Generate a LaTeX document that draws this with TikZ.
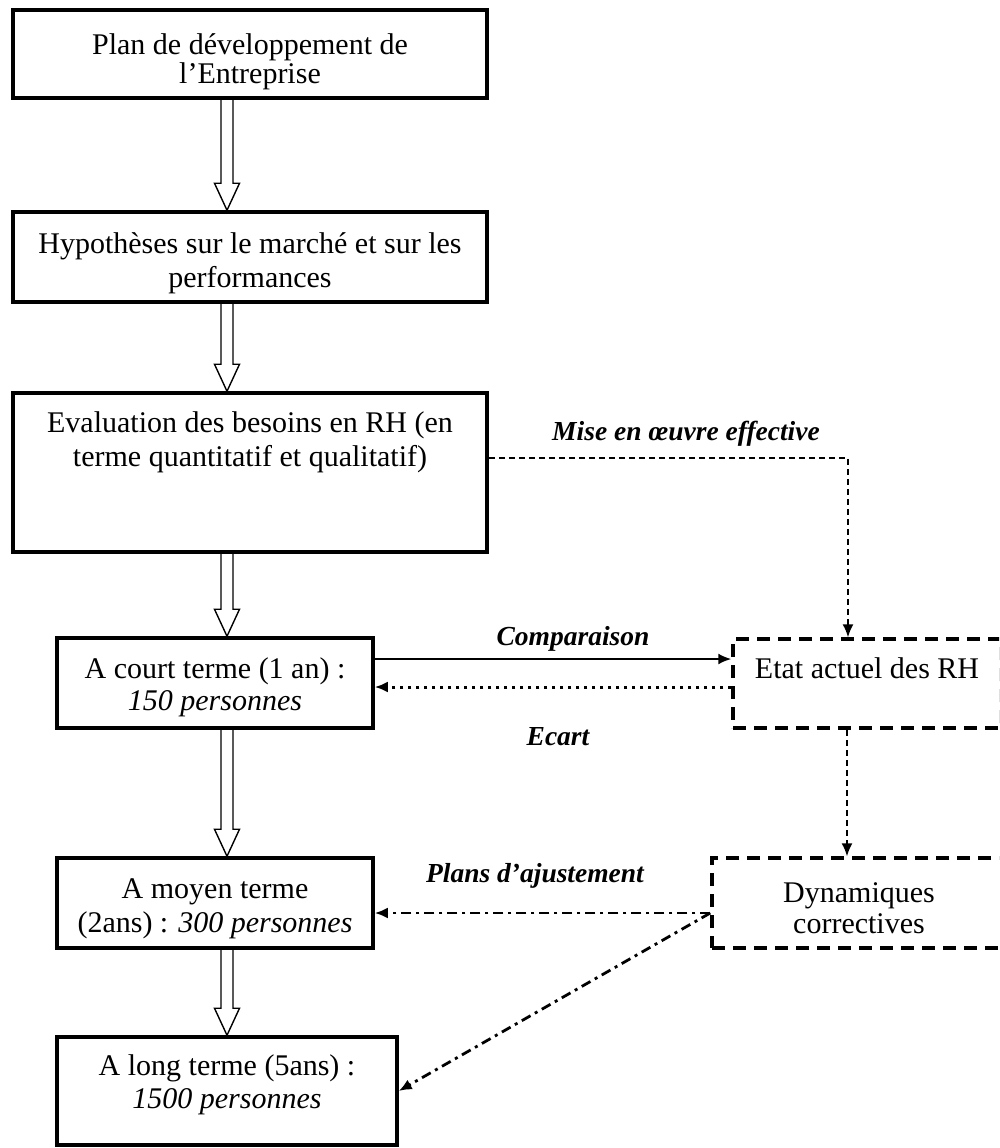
\documentclass[tikz,border=0pt]{standalone}
\usepackage{fontspec}
\setmainfont{Liberation Serif}
\usetikzlibrary{arrows.meta,calc}
\newcommand\blockarrow[2]{%
  \draw[blockarr] let \p1=(#1.south -| ax), \p2=(#2.north -| ax) in
    (\x1-6pt,\y1) -- (\x1-6pt,\y2+27pt) -- (\x1-12.5pt,\y2+27pt) -- (\x2,\y2)
    -- (\x1+12.5pt,\y2+27pt) -- (\x1+6pt,\y2+27pt) -- (\x1+6pt,\y1);}
\begin{document}
\begin{tikzpicture}[x=1pt,y=-1pt,
  solidbox/.style={draw, line width=3.5pt, inner sep=0pt, rectangle},
  dashbox/.style={draw, line width=3.5pt, inner sep=0pt, rectangle, dash pattern=on 13pt off 8pt},
  txt/.style={anchor=base, inner sep=0pt, font=\fontsize{30}{34}\selectfont},
  lbl/.style={anchor=base, inner sep=0pt, font=\fontsize{27.5}{32}\selectfont\bfseries\itshape},
  blockarr/.style={draw, line width=1.4pt, line join=miter},
  tip/.style={-{Latex[length=13pt,width=11pt]}},
  dashedcon/.style={tip, line width=1.5pt, dash pattern=on 6pt off 4pt},
  dottedcon/.style={tip, line width=3pt, dash pattern=on 3pt off 5pt},
  dashdotcon/.style={tip, line width=2.8pt, dash pattern=on 10pt off 5pt on 3pt off 5pt},
  solidcon/.style={tip, line width=2pt}]
\useasboundingbox (0,0) rectangle (999,1148);
\clip (0,0) rectangle (999,1148);
\coordinate (ax) at (227,0);

% boxes
\node[solidbox, minimum width=474pt, minimum height=88pt] (b1) at (250,54) {};
\node[solidbox, minimum width=474pt, minimum height=90pt] (b2) at (250,257) {};
\node[solidbox, minimum width=474pt, minimum height=159pt] (b3) at (250,472.5) {};
\node[solidbox, minimum width=316pt, minimum height=90pt] (b4) at (215,683) {};
\node[solidbox, minimum width=316pt, minimum height=90pt] (b5) at (215,903) {};
\node[solidbox, minimum width=340pt, minimum height=108pt] (b6) at (227,1091) {};
\node[dashbox, minimum width=268pt, minimum height=89pt] (etat) at (867,683.5) {};
\node[dashbox, minimum width=294pt, minimum height=90pt] (dyn) at (859,903) {};

% texts
\node[txt] (t1a) at (250,55) {Plan de développement de};
\node[txt] (t1b) at (250,83) {l’Entreprise};
\node[txt] (t2a) at (250,253) {Hypothèses sur le marché et sur les};
\node[txt] (t2b) at (250,287) {performances};
\node[txt] (t3a) at (250,432) {Evaluation des besoins en RH (en};
\node[txt] (t3b) at (250,466) {terme quantitatif et qualitatif)};
\node[txt] (t4a) at (215,678) {A court terme (1 an) :};
\node[txt] (t4b) at (215,710) {\itshape 150 personnes};
\node[txt] (t5a) at (215,898) {A moyen terme};
\node[txt] (t5b) at (215,932) {(2ans) : \itshape 300 personnes};
\node[txt] (t6a) at (227,1075) {A long terme (5ans) :};
\node[txt] (t6b) at (227,1108) {\itshape 1500 personnes};
\node[txt] (te) at (867,678) {Etat actuel des RH};
\node[txt] (tda) at (859,902) {Dynamiques};
\node[txt] (tdb) at (859,933) {correctives};

% labels
\node[lbl] (lmise) at (686,440) {Mise en œuvre effective};
\node[lbl] (lcomp) at (573,645) {Comparaison};
\node[lbl] (lecart) at (558,745) {Ecart};
\node[lbl] (lplans) at (535,882) {Plans d’ajustement};

% block arrows
\blockarrow{b1}{b2}
\blockarrow{b2}{b3}
\blockarrow{b3}{b4}
\blockarrow{b4}{b5}
\blockarrow{b5}{b6}

% connectors
\draw[dashedcon] ([yshift=14.5pt]b3.east) -| ([xshift=-19pt]etat.north);
\draw[solidcon] ([yshift=24pt]b4.east) -- ([yshift=24pt]b4.east -| etat.west);
\draw[dottedcon] ([yshift=-4pt]b4.east -| etat.west) -- ([yshift=-4pt]b4.east);
\draw[dashedcon] ([xshift=-20pt]etat.south) -- ([xshift=-20pt]etat.south |- dyn.north);
\draw[dashdotcon] ([yshift=-10pt]b5.east -| dyn.west) -- ([yshift=-10pt]b5.east);
\draw[dashdotcon] ([yshift=-10pt]b5.east -| dyn.west) -- (b6.east);
\end{tikzpicture}
\end{document}
